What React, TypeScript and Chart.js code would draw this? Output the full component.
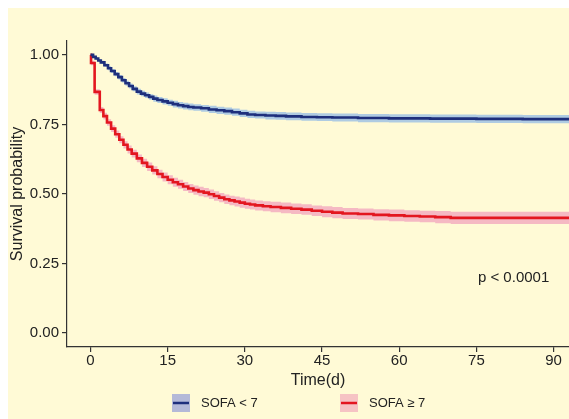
import React, { useEffect, useRef } from "react";
import { Chart, registerables } from "chart.js";

Chart.register(...registerables);

// ---- data ----
const xTicks = [0, 15, 30, 45, 60, 75, 90];
const yTicks = [0, 0.25, 0.5, 0.75, 1.0];
const seriesNames = ["SOFA < 7", "SOFA \u2265 7"];
const pValueText = "p < 0.0001";

const blueTime = [0, 0.5, 1, 1.5, 2, 2.7, 3.4, 4, 4.7, 5.4, 6.1, 6.8, 7.5, 8.2, 9, 9.8, 10.6, 11.4, 12.2, 13, 14, 15, 16, 17, 18, 19, 20, 21.5, 23, 24.5, 26, 27.5, 29, 30.5, 32, 34, 36, 38, 41, 44, 47, 52, 58, 66, 75, 84, 95];
const blueSurv = [1.0, 0.993, 0.987, 0.98, 0.973, 0.963, 0.952, 0.942, 0.931, 0.92, 0.909, 0.898, 0.888, 0.878, 0.868, 0.861, 0.855, 0.849, 0.843, 0.838, 0.833, 0.828, 0.823, 0.819, 0.816, 0.813, 0.811, 0.808, 0.804, 0.801, 0.798, 0.794, 0.79, 0.786, 0.784, 0.782, 0.781, 0.779, 0.777, 0.776, 0.775, 0.773, 0.772, 0.771, 0.77, 0.769, 0.768];
const blueLow = [1.0, 0.99, 0.983, 0.975, 0.967, 0.957, 0.945, 0.935, 0.923, 0.912, 0.901, 0.889, 0.879, 0.869, 0.858, 0.851, 0.845, 0.839, 0.832, 0.827, 0.822, 0.817, 0.811, 0.807, 0.804, 0.801, 0.799, 0.796, 0.791, 0.788, 0.785, 0.781, 0.777, 0.773, 0.771, 0.768, 0.767, 0.765, 0.763, 0.762, 0.761, 0.758, 0.757, 0.756, 0.755, 0.754, 0.753];
const blueHigh = [1.0, 0.996, 0.991, 0.985, 0.979, 0.969, 0.959, 0.949, 0.939, 0.928, 0.917, 0.907, 0.897, 0.887, 0.878, 0.871, 0.865, 0.859, 0.854, 0.849, 0.844, 0.839, 0.835, 0.831, 0.828, 0.825, 0.823, 0.82, 0.817, 0.814, 0.811, 0.807, 0.803, 0.799, 0.797, 0.796, 0.795, 0.793, 0.791, 0.79, 0.789, 0.788, 0.787, 0.786, 0.785, 0.784, 0.783];

const redTime = [0, 0.1, 0.8, 1.8, 2.5, 3.2, 4, 4.8, 5.6, 6.4, 7.2, 8, 9, 10, 11, 12, 13, 14, 15, 16, 17, 18, 19, 20, 21, 22, 23, 24, 25, 26, 27, 28, 29, 30, 31, 32, 33.5, 35, 37, 39, 41, 43, 45, 47, 49, 52, 55, 58, 61, 64, 67, 70, 95];
const redSurv = [1.0, 0.971, 0.867, 0.802, 0.78, 0.757, 0.735, 0.715, 0.695, 0.677, 0.66, 0.645, 0.628, 0.612, 0.598, 0.585, 0.572, 0.561, 0.551, 0.542, 0.535, 0.527, 0.52, 0.514, 0.509, 0.505, 0.499, 0.493, 0.487, 0.481, 0.477, 0.473, 0.469, 0.465, 0.462, 0.459, 0.456, 0.453, 0.45, 0.447, 0.444, 0.44, 0.436, 0.433, 0.43, 0.428, 0.425, 0.423, 0.421, 0.419, 0.417, 0.414, 0.414];
const redLow = [1.0, 0.963, 0.857, 0.791, 0.768, 0.745, 0.723, 0.702, 0.682, 0.664, 0.646, 0.631, 0.614, 0.597, 0.583, 0.57, 0.557, 0.545, 0.535, 0.526, 0.519, 0.511, 0.504, 0.497, 0.492, 0.488, 0.482, 0.476, 0.47, 0.464, 0.46, 0.455, 0.451, 0.447, 0.444, 0.441, 0.438, 0.434, 0.431, 0.428, 0.425, 0.421, 0.416, 0.413, 0.41, 0.408, 0.405, 0.402, 0.4, 0.398, 0.395, 0.392, 0.392];
const redHigh = [1.0, 0.979, 0.877, 0.813, 0.792, 0.769, 0.747, 0.728, 0.708, 0.69, 0.674, 0.659, 0.642, 0.627, 0.613, 0.6, 0.587, 0.577, 0.567, 0.558, 0.551, 0.543, 0.536, 0.531, 0.526, 0.522, 0.516, 0.51, 0.504, 0.498, 0.494, 0.491, 0.487, 0.483, 0.48, 0.477, 0.474, 0.472, 0.469, 0.466, 0.463, 0.459, 0.456, 0.453, 0.45, 0.448, 0.445, 0.444, 0.442, 0.44, 0.439, 0.436, 0.436];

// ---- style ----
const BG = "#FFFAD6";
const FONT = "'Liberation Sans', Arial, Helvetica, sans-serif";
const TEXT = "#222222";
const AXIS = "#333333";
const BLUE_LINE = "#1E2F7C";
const BLUE_BAND = "#AFCBE2";
const BLUE_KEY = "#B4B9D8";
const RED_LINE = "#E3161F";
const RED_BAND = "#F5B9C3";
const RED_KEY = "#F6C3C4";

const W = 561;
const H = 411;

const pts = (xs: number[], ys: number[]) => xs.map((x, i) => ({ x, y: ys[i] }));

const overlayPlugin = {
  id: "overlay",
  afterDraw(chart: any) {
    const ctx = chart.ctx;
    const xs = chart.scales.x;
    const ys = chart.scales.y;
    ctx.save();
    // p-value
    ctx.font = `15px ${FONT}`;
    ctx.fillStyle = TEXT;
    ctx.textAlign = "left";
    ctx.textBaseline = "middle";
    ctx.fillText(pValueText, xs.getPixelForValue(75.3), ys.getPixelForValue(0.198));

    // legend
    const keys = [
      { x: 164, fill: BLUE_KEY, line: BLUE_LINE, label: seriesNames[0] },
      { x: 332, fill: RED_KEY, line: RED_LINE, label: seriesNames[1] },
    ];
    const ky = 386;
    const ks = 18;
    ctx.font = `13px ${FONT}`;
    for (const k of keys) {
      ctx.fillStyle = k.fill;
      ctx.fillRect(k.x, ky, ks, ks);
      ctx.strokeStyle = k.line;
      ctx.lineWidth = 2.5;
      ctx.beginPath();
      ctx.moveTo(k.x + 1, ky + ks / 2);
      ctx.lineTo(k.x + ks - 1, ky + ks / 2);
      ctx.stroke();
      ctx.fillStyle = TEXT;
      ctx.fillText(k.label, k.x + 29, ky + ks / 2 + 0.5);
    }
    ctx.restore();
  },
};

export default function App() {
  const ref = useRef<HTMLCanvasElement | null>(null);

  useEffect(() => {
    if (!ref.current) return;
    const chart = new Chart(ref.current, {
      type: "line",
      data: {
        datasets: [
          {
            data: pts(blueTime, blueSurv),
            borderColor: BLUE_LINE,
            borderWidth: 2.6,
            pointRadius: 0,
            stepped: true,
            fill: false,
          },
          {
            data: pts(redTime, redSurv),
            borderColor: RED_LINE,
            borderWidth: 2.6,
            pointRadius: 0,
            stepped: true,
            fill: false,
          },
          {
            data: pts(blueTime, blueLow),
            borderWidth: 0,
            borderColor: "rgba(0,0,0,0)",
            pointRadius: 0,
            stepped: true,
            fill: false,
          },
          {
            data: pts(blueTime, blueHigh),
            borderWidth: 0,
            borderColor: "rgba(0,0,0,0)",
            backgroundColor: BLUE_BAND,
            pointRadius: 0,
            stepped: true,
            fill: 2,
          },
          {
            data: pts(redTime, redLow),
            borderWidth: 0,
            borderColor: "rgba(0,0,0,0)",
            pointRadius: 0,
            stepped: true,
            fill: false,
          },
          {
            data: pts(redTime, redHigh),
            borderWidth: 0,
            borderColor: "rgba(0,0,0,0)",
            backgroundColor: RED_BAND,
            pointRadius: 0,
            stepped: true,
            fill: 4,
          },
        ],
      },
      options: {
        responsive: false,
        animation: false,
        parsing: true,
        layout: { padding: { top: 33, bottom: 29, left: 0, right: 0 } },
        plugins: {
          legend: { display: false },
          tooltip: { enabled: false },
        },
        scales: {
          x: {
            type: "linear",
            min: -4.57,
            max: 93,
            afterBuildTicks: (s: any) => {
              s.ticks = xTicks.map((v) => ({ value: v }));
            },
            afterFit: (s: any) => {
              s.height = 43;
            },
            border: { display: true, color: AXIS, width: 1.2 },
            grid: { display: true, drawOnChartArea: false, drawTicks: true, tickLength: 5, color: AXIS, lineWidth: 1.2 },
            ticks: {
              autoSkip: false,
              maxRotation: 0,
              padding: 0,
              color: TEXT,
              font: { family: FONT, size: 15 },
              callback: (v: any) => String(v),
            },
            title: {
              display: true,
              text: "Time(d)",
              color: TEXT,
              font: { family: FONT, size: 16 },
              padding: { top: 0, bottom: 0 },
            },
          },
          y: {
            type: "linear",
            min: -0.05,
            max: 1.05,
            afterBuildTicks: (s: any) => {
              s.ticks = yTicks.map((v) => ({ value: v }));
            },
            afterFit: (s: any) => {
              s.width = 59;
            },
            border: { display: true, color: AXIS, width: 1.2 },
            grid: { display: true, drawOnChartArea: false, drawTicks: true, tickLength: 5, color: AXIS, lineWidth: 1.2 },
            ticks: {
              padding: 3,
              color: TEXT,
              font: { family: FONT, size: 15 },
              callback: (v: any) => Number(v).toFixed(2),
            },
            title: {
              display: true,
              text: "Survival probability",
              color: TEXT,
              font: { family: FONT, size: 16 },
              padding: { top: 0, bottom: 0 },
            },
          },
        },
      },
      plugins: [overlayPlugin],
    } as any);
    return () => chart.destroy();
  }, []);

  return (
    <div style={{ position: "fixed", left: 8, top: 8, width: W, height: H, background: BG, overflow: "hidden" }}>
      <canvas ref={ref} width={W} height={H} style={{ display: "block", width: W, height: H }} />
    </div>
  );
}
